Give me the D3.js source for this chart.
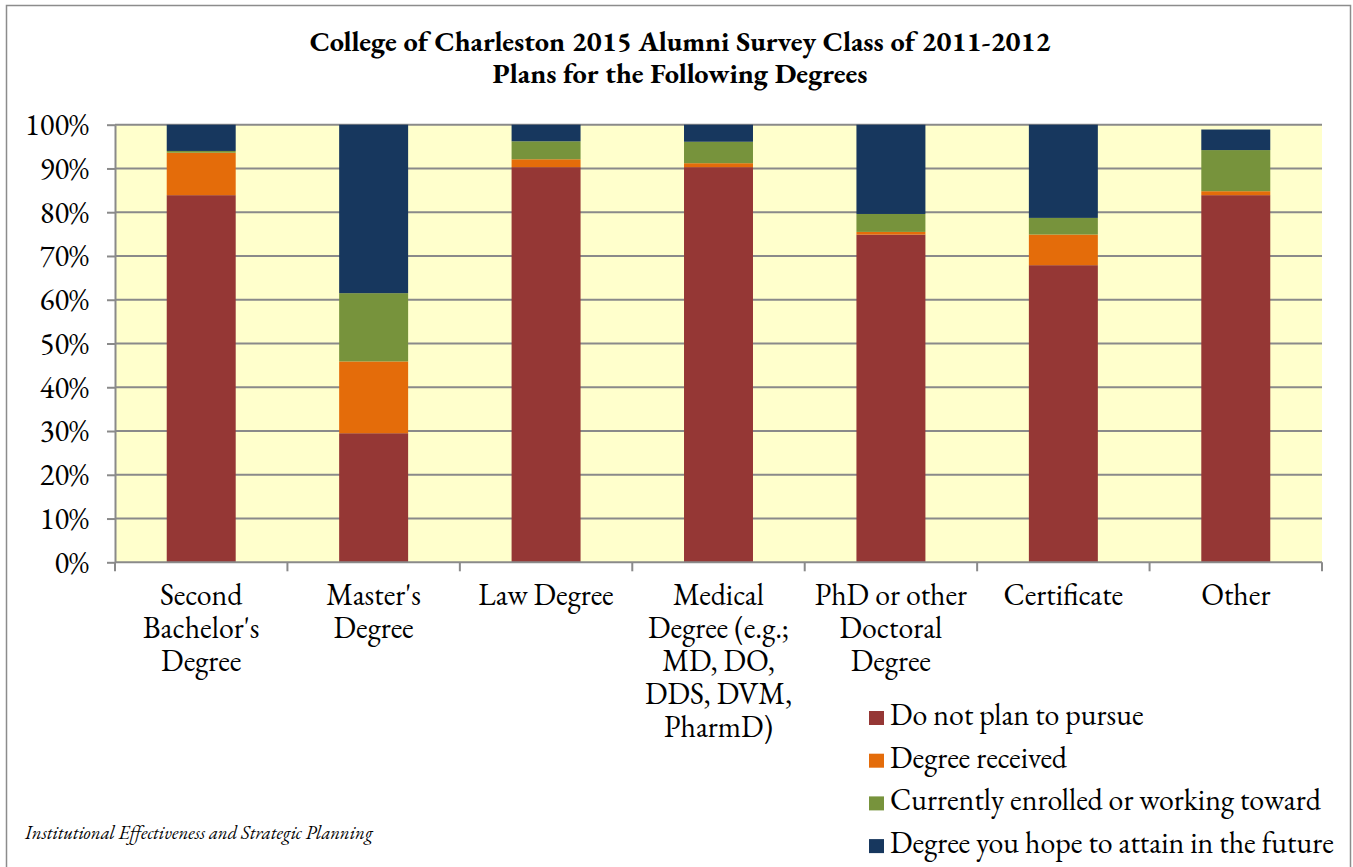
<!DOCTYPE html>
<html>
<head>
<meta charset="utf-8">
<script src="https://cdn.jsdelivr.net/npm/d3@7"></script>
<style>
  html, body { margin: 0; padding: 0; background: #fff; }
  svg { display: block; }
  text { font-family: "EB Garamond", "Liberation Serif", serif; fill: #000; }
</style>
</head>
<body>
<svg id="chart" width="1353" height="867"></svg>
<script>
const titleLines = ["College of Charleston 2015 Alumni Survey Class of 2011-2012", "Plans for the Following Degrees"];
const categories = [
  "Second Bachelor's Degree",
  "Master's Degree",
  "Law Degree",
  "Medical Degree (e.g.; MD, DO, DDS, DVM, PharmD)",
  "PhD or other Doctoral Degree",
  "Certificate",
  "Other"
];
const categoryLines = [
  ["Second", "Bachelor's", "Degree"],
  ["Master's", "Degree"],
  ["Law Degree"],
  ["Medical", "Degree (e.g.;", "MD, DO,", "DDS, DVM,", "PharmD)"],
  ["PhD or other", "Doctoral", "Degree"],
  ["Certificate"],
  ["Other"]
];
const seriesNames = ["Do not plan to pursue", "Degree received", "Currently enrolled or working toward", "Degree you hope to attain in the future"];
const doNotPlan   = [83.9, 29.5, 90.3, 90.3, 74.9, 67.9, 83.9];
const received    = [ 9.7, 16.4,  1.8,  0.9,  0.6,  7.0,  0.9];
const enrolled    = [ 0.4, 15.6,  4.1,  4.9,  4.1,  3.8,  9.4];
const hopeFuture  = [ 6.0, 38.5,  3.8,  3.9, 20.4, 21.3,  4.7];
const seriesColors = ["#953735", "#E46C0A", "#77933C", "#17375E"];
const yTicks = [0, 10, 20, 30, 40, 50, 60, 70, 80, 90, 100];
const footnote = "Institutional Effectiveness and Strategic Planning";

const svg = d3.select("#chart");
const plot = { left: 115, top: 124.7, right: 1322, bottom: 562.3 };

// measure helper to pick font sizes matching the reference text widths
function fitSize(str, targetW, weight, style) {
  const t = svg.append("text").style("font-size", "100px")
    .style("font-weight", weight || "normal").style("font-style", style || "normal").text(str);
  const w = t.node().getComputedTextLength();
  t.remove();
  return 100 * targetW / w;
}
const bodySize = fitSize(seriesNames[3], 444);
const titleSize = fitSize(titleLines[0], 741, "bold");
const noteSize = fitSize(footnote, 348, null, "italic");
const tickSize = fitSize("100%", 64);

// outer border
svg.append("rect").attr("x", 6.5).attr("y", 5.5).attr("width", 1344).attr("height", 880)
  .attr("fill", "#fff").attr("stroke", "#8c8c8c").attr("stroke-width", 1.5);

const x = d3.scaleBand().domain(categories).range([plot.left, plot.right]).paddingInner(0.6).paddingOuter(0.3);
const xOuter = d3.scaleBand().domain(categories).range([plot.left, plot.right]);
const y = d3.scaleLinear().domain([0, 100]).range([plot.bottom, plot.top]);

// plot background
svg.append("rect").attr("x", plot.left).attr("y", plot.top)
  .attr("width", plot.right - plot.left).attr("height", plot.bottom - plot.top)
  .attr("fill", "#FFFFCC");

// gridlines
svg.append("g").selectAll("line").data(yTicks.filter(d => d > 0)).join("line")
  .attr("x1", plot.left).attr("x2", plot.right)
  .attr("y1", d => y(d)).attr("y2", d => y(d))
  .attr("stroke", "#8a8a8a").attr("stroke-width", 2);

// stack
const rows = categories.map((c, i) => ({ cat: c, s0: doNotPlan[i], s1: received[i], s2: enrolled[i], s3: hopeFuture[i] }));
const stack = d3.stack().keys(["s0", "s1", "s2", "s3"])(rows);

svg.append("g").selectAll("g").data(stack).join("g")
  .attr("fill", (d, i) => seriesColors[i])
  .selectAll("rect").data(d => d).join("rect")
  .attr("x", d => x(d.data.cat))
  .attr("width", x.bandwidth())
  .attr("y", d => y(d[1]))
  .attr("height", d => y(d[0]) - y(d[1]));

// y axis
const yAxis = svg.append("g").attr("transform", `translate(${plot.left},0)`)
  .call(d3.axisLeft(y).tickValues(yTicks).tickFormat(d => d + "%").tickSize(8).tickSizeOuter(0));
yAxis.attr("font-family", null).attr("font-size", null);
yAxis.select(".domain").attr("stroke", "#8a8a8a").attr("stroke-width", 2);
yAxis.selectAll(".tick line").attr("stroke", "#8a8a8a").attr("stroke-width", 2);
yAxis.selectAll(".tick text").attr("x", -26).attr("dy", "0.32em")
  .style("font-size", tickSize + "px").attr("fill", "#000");

// x axis line and ticks at category boundaries
const boundaries = categories.map(c => xOuter(c)).concat([plot.right]);
svg.append("line").attr("x1", plot.left).attr("x2", plot.right)
  .attr("y1", plot.bottom).attr("y2", plot.bottom)
  .attr("stroke", "#8a8a8a").attr("stroke-width", 2);
svg.append("g").selectAll("line").data(boundaries).join("line")
  .attr("x1", d => d).attr("x2", d => d)
  .attr("y1", plot.bottom).attr("y2", plot.bottom + 9)
  .attr("stroke", "#8a8a8a").attr("stroke-width", 2);

// category labels
const catG = svg.append("g");
categories.forEach((c, i) => {
  const cx = xOuter(c) + xOuter.bandwidth() / 2;
  const t = catG.append("text").attr("text-anchor", "middle")
    .style("font-size", bodySize + "px");
  categoryLines[i].forEach((ln, j) => {
    t.append("tspan").attr("x", cx).attr("y", 605 + j * 33).text(ln);
  });
});

// title
const tt = svg.append("text").attr("text-anchor", "middle")
  .style("font-weight", "bold").style("font-size", titleSize + "px");
titleLines.forEach((ln, j) => {
  tt.append("tspan").attr("x", 680).attr("y", 51 + j * 32).text(ln);
});

// legend
const lg = svg.append("g");
seriesNames.forEach((n, i) => {
  const yy = 711 + i * 42.7;
  lg.append("rect").attr("x", 869).attr("y", yy).attr("width", 15).attr("height", 14).attr("fill", seriesColors[i]);
  lg.append("text").attr("x", 890).attr("y", yy + 14).style("font-size", bodySize + "px").text(n);
});

// footnote
svg.append("text").attr("x", 25).attr("y", 839)
  .style("font-style", "italic").style("font-size", noteSize + "px").text(footnote);
</script>
</body>
</html>
